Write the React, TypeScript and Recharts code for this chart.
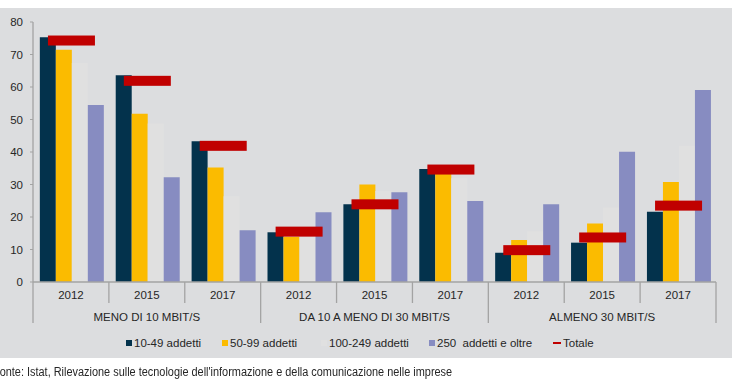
import {
  Bar,
  ComposedChart,
  Scatter,
  XAxis,
  YAxis,
} from "recharts";

// Categories: three speed classes, three survey years each
const groups = ["MENO DI 10 MBIT/S", "DA 10 A MENO DI 30 MBIT/S", "ALMENO 30 MBIT/S"];
const years = ["2012", "2015", "2017"];

// Series values (% of firms)
const addetti10_49 = [75.3, 63.6, 43.3, 15.3, 23.9, 34.8, 9.0, 12.1, 21.6];
const addetti50_99 = [71.5, 51.8, 35.2, 13.9, 30.0, 34.0, 12.9, 18.0, 30.8];
const addetti100_249 = [67.4, 48.8, 26.4, 14.0, 28.0, 31.9, 15.6, 22.9, 41.9];
const addetti250 = [54.5, 32.2, 15.9, 21.5, 27.6, 24.9, 23.9, 40.1, 59.1];
const totale = [74.3, 61.9, 41.9, 15.5, 23.9, 34.6, 9.8, 13.7, 23.5];

const yTicks = [0, 10, 20, 30, 40, 50, 60, 70, 80];

const seriesLabels = [
  "10-49 addetti",
  "50-99 addetti",
  "100-249 addetti",
  "250  addetti e oltre",
  "Totale",
];

const COLORS = {
  navy: "#03324c",
  yellow: "#fbbb00",
  gray: "#e0e0e0",
  purple: "#878cc1",
  red: "#c00000",
  panel: "#dcdddf",
  axis: "#a3a3a3",
  text: "#262626",
};

const FONT = "'Liberation Sans', Arial, sans-serif";

const WIDTH = 740;
const HEIGHT = 389;
const PLOT_LEFT = 33;
const PLOT_RIGHT = 716;
const PLOT_TOP = 22;
const PLOT_BOTTOM = 282;
const X_AXIS_H = 45;

const data = groups.flatMap((g, gi) =>
  years.map((y, yi) => {
    const i = gi * years.length + yi;
    return {
      key: `${g}-${y}`,
      year: y,
      a: addetti10_49[i],
      b: addetti50_99[i],
      c: addetti100_249[i],
      d: addetti250[i],
      tot: totale[i],
    };
  })
);

const band = (PLOT_RIGHT - PLOT_LEFT) / data.length;

// two-level category tick: year + separators, group label on middle item
const CategoryTick = (props: any) => {
  const { x, y, index } = props;
  const i = index ?? props.payload?.index ?? 0;
  const left = x - band / 2;
  const right = x + band / 2;
  const groupStart = i % years.length === 0;
  const isLast = i === data.length - 1;
  return (
    <g>
      <line
        x1={left}
        x2={left}
        y1={y}
        y2={y + (groupStart ? 41 : 21)}
        stroke={COLORS.axis}
        strokeWidth={1.3}
      />
      {isLast && (
        <line x1={right} x2={right} y1={y} y2={y + 41} stroke={COLORS.axis} strokeWidth={1.3} />
      )}
      <text x={x} y={y + 17} textAnchor="middle" fill={COLORS.text} fontSize={11.5}>
        {data[i]?.year}
      </text>
      {i % years.length === 1 && (
        <text x={x} y={y + 39} textAnchor="middle" fill={COLORS.text} fontSize={11.5}>
          {groups[Math.floor(i / years.length)]}
        </text>
      )}
    </g>
  );
};

const TotaleMark = (props: any) => {
  const { cx, cy } = props;
  if (cx == null || cy == null) return null;
  return <rect x={cx - 23} y={cy - 5} width={47} height={10} fill={COLORS.red} />;
};

const legendItems = [
  { label: seriesLabels[0], color: COLORS.navy, left: 126, kind: "box" },
  { label: seriesLabels[1], color: COLORS.yellow, left: 222, kind: "box" },
  { label: seriesLabels[2], color: COLORS.gray, left: 321, kind: "box" },
  { label: seriesLabels[3], color: COLORS.purple, left: 429, kind: "box" },
  { label: seriesLabels[4], color: COLORS.red, left: 553, kind: "dash" },
];

export default function App() {
  return (
    <div
      style={{
        position: "fixed",
        left: 0,
        top: 0,
        width: WIDTH,
        height: HEIGHT,
        background: "#fff",
        fontFamily: FONT,
      }}>
      <div
        style={{
          position: "absolute",
          left: 0,
          top: 8,
          width: 732,
          height: 350,
          background: COLORS.panel,
        }}
      />
      <div style={{ position: "absolute", left: 0, top: 0 }}>
        <ComposedChart
          width={WIDTH}
          height={HEIGHT}
          data={data}
          margin={{
            top: PLOT_TOP,
            right: WIDTH - PLOT_RIGHT,
            left: 0,
            bottom: HEIGHT - PLOT_BOTTOM - X_AXIS_H,
          }}
          barCategoryGap="9%"
          barGap={0}
          style={{ fontFamily: FONT }}>
          <XAxis
            dataKey="key"
            height={X_AXIS_H}
            interval={0}
            tickLine={false}
            tickSize={0}
            tickMargin={0}
            axisLine={{ stroke: COLORS.axis, strokeWidth: 1.3 }}
            tick={<CategoryTick />}
          />
          <YAxis
            width={PLOT_LEFT}
            domain={[0, 80]}
            ticks={yTicks}
            interval={0}
            tickSize={3}
            tickMargin={7}
            axisLine={{ stroke: COLORS.axis, strokeWidth: 1.3 }}
            tickLine={{ stroke: COLORS.axis }}
            tick={{ fill: COLORS.text, fontSize: 11.5 }}
          />
          <Bar dataKey="a" fill={COLORS.navy} isAnimationActive={false} />
          <Bar dataKey="b" fill={COLORS.yellow} isAnimationActive={false} />
          <Bar dataKey="c" fill={COLORS.gray} isAnimationActive={false} />
          <Bar dataKey="d" fill={COLORS.purple} isAnimationActive={false} />
          <Scatter dataKey="tot" shape={<TotaleMark />} isAnimationActive={false} />
        </ComposedChart>
      </div>
      {legendItems.map(item => (
        <div
          key={item.label}
          style={{
            position: "absolute",
            left: item.left,
            top: 335,
            height: 16,
            display: "flex",
            alignItems: "center",
            fontSize: 11.5,
            color: COLORS.text,
            whiteSpace: "pre",
          }}>
          <span
            style={{
              display: "inline-block",
              width: item.kind === "dash" ? 8 : 6,
              height: item.kind === "dash" ? 2 : 6,
              background: item.color,
              marginRight: 2,
            }}
          />
          {item.label}
        </div>
      ))}
      <div
        style={{
          position: "absolute",
          left: -7,
          top: 365,
          fontSize: 12,
          color: COLORS.text,
          whiteSpace: "nowrap",
          transform: "scaleX(0.91)",
          transformOrigin: "left center",
        }}>
        Fonte: Istat, Rilevazione sulle tecnologie dell'informazione e della comunicazione nelle imprese
      </div>
    </div>
  );
}
